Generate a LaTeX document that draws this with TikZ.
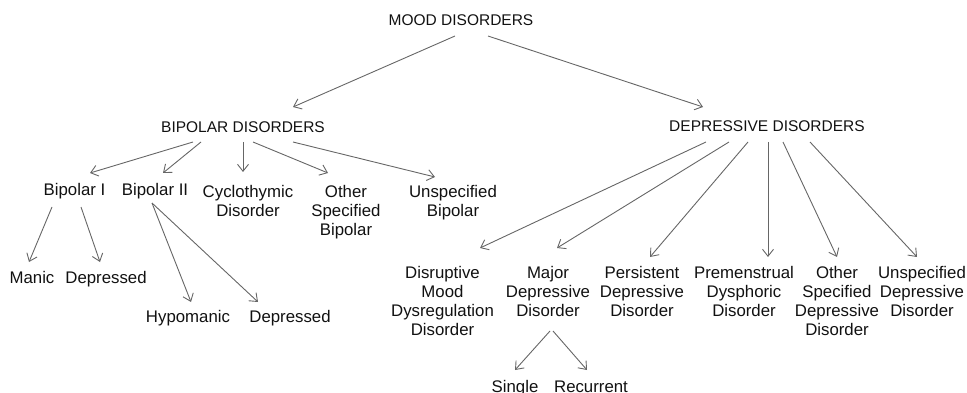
\documentclass[tikz,border=0pt]{standalone}
\usepackage{fontspec}
\setmainfont{Liberation Sans}
\usetikzlibrary{arrows.meta}
\definecolor{arrowgray}{HTML}{666666}
\definecolor{textblack}{HTML}{111111}
\tikzset{
  capnode/.style={font=\fontsize{15.5}{19}\selectfont, text=textblack, inner sep=0pt, anchor=base},
  leafnode/.style={font=\fontsize{16.8}{19}\selectfont, text=textblack, inner sep=0pt, anchor=base},
  multinode/.style={font=\fontsize{16.8}{19}\selectfont, text=textblack, inner sep=0pt, anchor=north, align=center},
  conn/.style={draw=arrowgray, line width=0.9pt, -{Straight Barb[length=7pt,width=11pt]}}
}
\begin{document}
\begin{tikzpicture}[x=1pt,y=-1pt]
\useasboundingbox (0,0) rectangle (967,393);
% level 0
\node[capnode] (mood) at (461,26) {MOOD DISORDERS};
% level 1
\node[capnode] (bip) at (243,133) {BIPOLAR DISORDERS};
\node[capnode] (dep) at (767,132) {DEPRESSIVE DISORDERS};
% bipolar children
\node[leafnode] (bipI) at (74.5,196) {Bipolar I};
\node[leafnode] (bipII) at (155,196) {Bipolar II};
\node[multinode] (cyc) at (248,185) {Cyclothymic\\Disorder};
\node[multinode] (osb) at (346,185) {Other\\Specified\\Bipolar};
\node[multinode] (ub) at (453,185) {Unspecified\\Bipolar};
\node[leafnode] (manic) at (32,283) {Manic};
\node[leafnode] (depI) at (106,283) {Depressed};
\node[leafnode] (hypo) at (188,322) {Hypomanic};
\node[leafnode] (depII) at (290,322) {Depressed};
% depressive children
\node[multinode] (dmdd) at (442.5,266) {Disruptive\\Mood\\Dysregulation\\Disorder};
\node[multinode] (mdd) at (548,266) {Major\\Depressive\\Disorder};
\node[multinode] (pdd) at (642,266) {Persistent\\Depressive\\Disorder};
\node[multinode] (pmdd) at (744,266) {Premenstrual\\Dysphoric\\Disorder};
\node[multinode] (osdd) at (837,266) {Other\\Specified\\Depressive\\Disorder};
\node[multinode] (udd) at (922,266) {Unspecified\\Depressive\\Disorder};
\node[leafnode] (single) at (515,392.5) {Single};
\node[leafnode] (rec) at (591,392.5) {Recurrent};
% connectors
\draw[conn] ([shift={(-6,10)}]mood.base) -- ([shift={(50,-26)}]bip.base);
\draw[conn] ([shift={(27,10)}]mood.base) -- ([shift={(-64,-25)}]dep.base);
\draw[conn] ([shift={(-50,9)}]bip.base) -- ([shift={(15.5,-23)}]bipI.base);
\draw[conn] ([shift={(-42,9)}]bip.base) -- ([shift={(8,-23)}]bipII.base);
\draw[conn] ([shift={(0,9)}]bip.base) -- ([shift={(-5,-13)}]cyc.north);
\draw[conn] ([shift={(10,9)}]bip.base) -- ([shift={(-18,-12)}]osb.north);
\draw[conn] ([shift={(50,9)}]bip.base) -- ([shift={(-18,-8)}]ub.north);
\draw[conn] ([shift={(-22.5,11)}]bipI.base) -- ([shift={(-3,-21)}]manic.base);
\draw[conn] ([shift={(6.5,11)}]bipI.base) -- ([shift={(-6,-21)}]depI.base);
\draw[conn] ([shift={(-3,7)}]bipII.base) -- ([shift={(3,-20)}]hypo.base);
\draw[conn] ([shift={(-3,7)}]bipII.base) -- ([shift={(-32,-20)}]depII.base);
\draw[conn] ([shift={(-61,10)}]dep.base) -- ([shift={(37.5,-18)}]dmdd.north);
\draw[conn] ([shift={(-38,10)}]dep.base) -- ([shift={(9,-18)}]mdd.north);
\draw[conn] ([shift={(-19,10)}]dep.base) -- ([shift={(8,-9)}]pdd.north);
\draw[conn] ([shift={(1,10)}]dep.base) -- ([shift={(24,-9)}]pmdd.north);
\draw[conn] ([shift={(16,10)}]dep.base) -- ([shift={(0,-9)}]osdd.north);
\draw[conn] ([shift={(43,10)}]dep.base) -- ([shift={(-5,-9)}]udd.north);
\draw[conn] ([shift={(2,65)}]mdd.north) -- ([shift={(0,-22.5)}]single.base);
\draw[conn] ([shift={(5,65)}]mdd.north) -- ([shift={(-4,-22.5)}]rec.base);
\end{tikzpicture}
\end{document}
